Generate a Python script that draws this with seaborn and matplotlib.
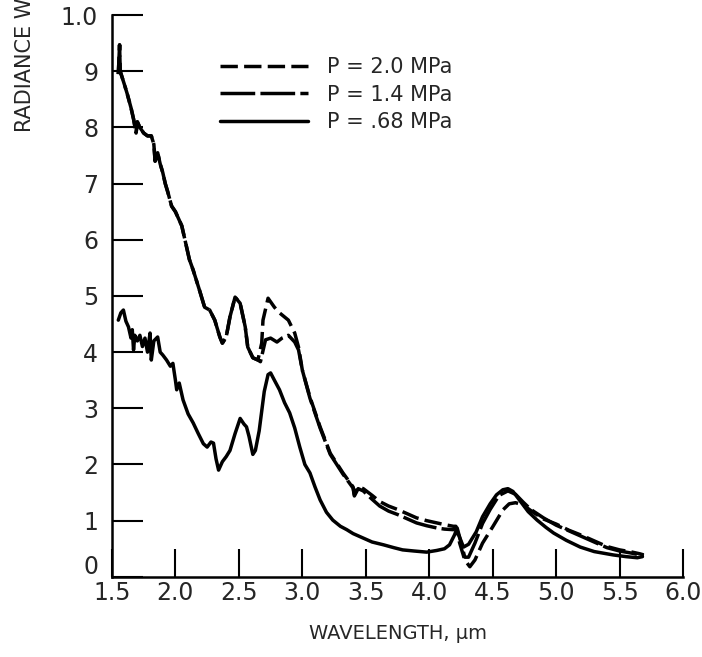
import numpy as np
import pandas as pd
import seaborn as sns
from matplotlib import pyplot as plt
from matplotlib.transforms import ScaledTranslation

# radiance curves (wavelength in um, radiance as on the axis 0 - 1.0)
wl_20 = [1.55, 1.56, 1.565, 1.60, 1.62, 1.65, 1.67, 1.69, 1.70, 1.72, 1.75, 1.78, 1.81, 1.83, 1.84, 1.86,
         1.88, 1.90, 1.92, 1.94, 1.97, 2.00, 2.02, 2.05, 2.08, 2.11, 2.14, 2.19, 2.23, 2.27, 2.31, 2.35,
         2.37, 2.40, 2.43, 2.47, 2.51, 2.55, 2.57, 2.61, 2.65, 2.68, 2.69, 2.73, 2.78, 2.82, 2.89, 2.94,
         2.97, 3.00, 3.06, 3.14, 3.22, 3.32, 3.40, 3.41, 3.44, 3.48, 3.55, 3.61, 3.68, 3.75, 3.83, 3.90,
         3.98, 4.06, 4.12, 4.19, 4.21, 4.24, 4.28, 4.32, 4.36, 4.42, 4.50, 4.58, 4.63, 4.68, 4.74, 4.80,
         4.90, 5.00, 5.10, 5.20, 5.30, 5.40, 5.50, 5.60, 5.66, 5.69]
rad_20 = [0.895, 0.947, 0.900, 0.875, 0.860, 0.835, 0.815, 0.790, 0.810, 0.800, 0.790, 0.785, 0.785, 0.770, 0.740, 0.755,
          0.735, 0.720, 0.700, 0.685, 0.660, 0.650, 0.640, 0.625, 0.595, 0.565, 0.546, 0.510, 0.480, 0.475, 0.457, 0.427,
          0.416, 0.427, 0.463, 0.498, 0.487, 0.445, 0.409, 0.390, 0.386, 0.416, 0.457, 0.496, 0.480, 0.470, 0.457, 0.434,
          0.409, 0.368, 0.320, 0.267, 0.220, 0.185, 0.160, 0.146, 0.160, 0.157, 0.145, 0.134, 0.126, 0.120, 0.112, 0.105,
          0.100, 0.096, 0.093, 0.090, 0.090, 0.060, 0.030, 0.018, 0.030, 0.060, 0.089, 0.119, 0.130, 0.132, 0.128, 0.118,
          0.103, 0.094, 0.083, 0.074, 0.064, 0.054, 0.048, 0.044, 0.041, 0.039]

wl_14 = [1.55, 1.56, 1.565, 1.60, 1.62, 1.65, 1.67, 1.69, 1.70, 1.72, 1.75, 1.78, 1.81, 1.83, 1.84, 1.86,
         1.88, 1.90, 1.92, 1.94, 1.97, 2.00, 2.02, 2.05, 2.08, 2.11, 2.14, 2.19, 2.23, 2.27, 2.31, 2.35,
         2.37, 2.40, 2.43, 2.47, 2.51, 2.55, 2.57, 2.61, 2.65, 2.67, 2.71, 2.75, 2.80, 2.84, 2.89, 2.94,
         2.97, 3.00, 3.06, 3.14, 3.22, 3.32, 3.40, 3.41, 3.44, 3.48, 3.55, 3.61, 3.68, 3.75, 3.83, 3.90,
         3.98, 4.06, 4.12, 4.19, 4.21, 4.24, 4.28, 4.31, 4.36, 4.42, 4.48, 4.55, 4.62, 4.68, 4.74, 4.80,
         4.90, 5.00, 5.10, 5.20, 5.30, 5.40, 5.50, 5.60, 5.66, 5.69]
rad_14 = [0.895, 0.947, 0.900, 0.875, 0.860, 0.835, 0.815, 0.790, 0.810, 0.800, 0.790, 0.785, 0.785, 0.770, 0.740, 0.755,
          0.735, 0.720, 0.700, 0.685, 0.660, 0.650, 0.640, 0.625, 0.595, 0.565, 0.546, 0.510, 0.480, 0.475, 0.457, 0.427,
          0.416, 0.427, 0.463, 0.498, 0.487, 0.445, 0.409, 0.390, 0.386, 0.383, 0.422, 0.425, 0.418, 0.425, 0.430, 0.418,
          0.404, 0.368, 0.318, 0.265, 0.218, 0.183, 0.158, 0.144, 0.157, 0.153, 0.138, 0.126, 0.117, 0.111, 0.103, 0.096,
          0.091, 0.087, 0.085, 0.084, 0.087, 0.070, 0.035, 0.035, 0.060, 0.095, 0.120, 0.145, 0.153, 0.147, 0.133, 0.120,
          0.105, 0.092, 0.082, 0.072, 0.062, 0.052, 0.046, 0.042, 0.039, 0.037]

wl_068 = [1.55, 1.57, 1.59, 1.61, 1.63, 1.65, 1.66, 1.67, 1.68, 1.70, 1.72, 1.74, 1.76, 1.78, 1.80, 1.81,
          1.83, 1.86, 1.88, 1.90, 1.93, 1.96, 1.98, 2.00, 2.01, 2.03, 2.06, 2.10, 2.14, 2.18, 2.22, 2.25,
          2.28, 2.30, 2.32, 2.34, 2.37, 2.40, 2.43, 2.47, 2.51, 2.54, 2.56, 2.58, 2.61, 2.63, 2.66, 2.70,
          2.73, 2.75, 2.78, 2.82, 2.86, 2.90, 2.94, 2.98, 3.02, 3.06, 3.10, 3.14, 3.19, 3.24, 3.30, 3.35,
          3.40, 3.45, 3.48, 3.55, 3.64, 3.72, 3.79, 3.88, 3.98, 4.06, 4.12, 4.16, 4.20, 4.22, 4.24, 4.27,
          4.31, 4.37, 4.42, 4.48, 4.53, 4.58, 4.62, 4.66, 4.71, 4.78, 4.85, 4.92, 4.98, 5.08, 5.19, 5.30,
          5.45, 5.55, 5.64, 5.68]
rad_068 = [0.457, 0.470, 0.475, 0.455, 0.445, 0.425, 0.440, 0.404, 0.430, 0.420, 0.430, 0.410, 0.425, 0.400, 0.434, 0.386,
           0.420, 0.427, 0.400, 0.395, 0.386, 0.375, 0.380, 0.350, 0.333, 0.345, 0.315, 0.290, 0.274, 0.255, 0.237, 0.231,
           0.240, 0.238, 0.210, 0.190, 0.205, 0.214, 0.225, 0.255, 0.282, 0.272, 0.267, 0.250, 0.218, 0.225, 0.260, 0.330,
           0.360, 0.363, 0.350, 0.333, 0.310, 0.292, 0.265, 0.231, 0.200, 0.185, 0.160, 0.137, 0.115, 0.101, 0.090, 0.084,
           0.077, 0.072, 0.069, 0.062, 0.057, 0.052, 0.048, 0.046, 0.044, 0.047, 0.050, 0.057, 0.075, 0.087, 0.070, 0.053,
           0.058, 0.080, 0.107, 0.130, 0.146, 0.155, 0.157, 0.152, 0.137, 0.116, 0.101, 0.088, 0.078, 0.065, 0.053, 0.045,
           0.039, 0.036, 0.034, 0.036]

labels = ['P = 2.0 MPa', 'P = 1.4 MPa', 'P = .68 MPa']
x_ticks = [1.5, 2.0, 2.5, 3.0, 3.5, 4.0, 4.5, 5.0, 5.5, 6.0]
x_ticklabels = ['1.5', '2.0', '2.5', '3.0', '3.5', '4.0', '4.5', '5.0', '5.5', '6.0']
y_ticks = [0, 0.1, 0.2, 0.3, 0.4, 0.5, 0.6, 0.7, 0.8, 0.9, 1.0]
y_ticklabels = ['0', '1', '2', '3', '4', '5', '6', '7', '8', '9', '1.0']

df = pd.concat([
    pd.DataFrame({'wl': wl_20, 'rad': rad_20, 'P': labels[0]}),
    pd.DataFrame({'wl': wl_14, 'rad': rad_14, 'P': labels[1]}),
    pd.DataFrame({'wl': wl_068, 'rad': rad_068, 'P': labels[2]}),
], ignore_index=True)

sns.set_style('ticks')
plt.rcParams['font.family'] = ['DejaVu Sans']

fig = plt.figure(figsize=(7.02, 6.57), dpi=100)
ax = fig.add_axes([0.1595, 0.122, 0.8135, 0.855])

sns.lineplot(data=df, x='wl', y='rad', hue='P', style='P', hue_order=labels, style_order=labels,
             palette=['black'] * 3, dashes={labels[0]: (5, 1.8), labels[1]: (10, 1.5), labels[2]: ''},
             sort=False, estimator=None, linewidth=2.5, legend=False, ax=ax)

ax.set_xlim(1.5, 6.0)
ax.set_ylim(0, 1.0)
ax.set_xticks(x_ticks)
ax.set_xticklabels(x_ticklabels, fontsize=17)
ax.set_yticks(y_ticks)
ax.set_yticklabels(y_ticklabels, fontsize=17)
ax.tick_params(axis='x', direction='in', length=20, width=1.5, pad=3, color='black')
ax.tick_params(axis='y', direction='in', length=22, width=1.5, pad=10, color='black')
for s in ['top', 'right']:
    ax.spines[s].set_visible(False)
for s in ['left', 'bottom']:
    ax.spines[s].set_linewidth(1.8)
    ax.spines[s].set_color('black')

# the "0" label sits a little above the axis line in the original
zero = ax.get_yticklabels()[0]
zero.set_transform(zero.get_transform() + ScaledTranslation(0, 9 / 72, fig.dpi_scale_trans))

ax.set_xlabel('WAVELENGTH, µm', fontsize=14, labelpad=14)
ax.set_ylabel('')
fig.text(0.035, 1 - 132 / 657, 'RADIANCE W/cm²-sr-µm', rotation=90, fontsize=15,
         ha='center', va='bottom')

leg = ax.legend(ax.lines[:3], labels, loc='upper left', bbox_to_anchor=(0.19, 0.925),
                frameon=False, fontsize=15, handlelength=4.2, handletextpad=0.9,
                labelspacing=0.35, borderpad=0, borderaxespad=0)

fig.savefig('out.png', dpi=100)
